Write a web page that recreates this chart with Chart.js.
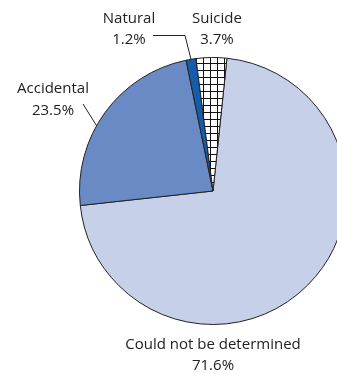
<!DOCTYPE html>
<html>
<head>
<meta charset="utf-8">
<script src="https://cdn.jsdelivr.net/npm/chart.js@4.4.1/dist/chart.umd.min.js"></script>
<style>
  html, body { margin: 0; padding: 0; background: #fff; overflow: hidden; width: 337px; height: 374px; }
  #wrap { position: absolute; left: 0; top: 0; width: 426px; height: 374px; }
</style>
</head>
<body>
<div id="wrap"><canvas id="pie" width="426" height="374"></canvas></div>
<script>
// データ
const categories = ['Could not be determined', 'Accidental', 'Natural', 'Suicide'];
const shares = [71.6, 23.5, 1.2, 3.7];

const FONT = '15px "Open Sans", sans-serif';

// 自殺の部分は格子模様
function gridPattern(ctx) {
    const c = document.createElement('canvas');
    c.width = 7;
    c.height = 7;
    const g = c.getContext('2d');
    g.fillStyle = '#fff';
    g.fillRect(0, 0, 7, 7);
    g.fillStyle = '#111';
    g.fillRect(0, 0, 7, 1);
    g.fillRect(0, 0, 1, 7);
    return ctx.createPattern(c, 'repeat');
}

// ラベルと引き出し線
const labelPlugin = {
    id: 'sliceLabels',
    afterDraw(chart) {
        const ctx = chart.ctx;
        const arcs = chart.getDatasetMeta(0).data;
        const a0 = arcs[0];
        const cx = a0.x, cy = a0.y, r = a0.outerRadius;
        const onEdge = (angle) => [cx + r * Math.cos(angle), cy + r * Math.sin(angle)];
        const mid = (arc) => (arc.startAngle + arc.endAngle) / 2;

        ctx.save();
        ctx.font = FONT;
        ctx.fillStyle = '#222';
        ctx.textAlign = 'center';
        ctx.textBaseline = 'alphabetic';

        const pct = (i) => shares[i].toFixed(1) + '%';
        // 判定不能
        ctx.fillText(categories[0], 213, 349);
        ctx.fillText(pct(0), 213, 370);
        // 事故
        ctx.fillText(categories[1], 53, 93);
        ctx.fillText(pct(1), 53, 115);
        // 自然
        ctx.fillText(categories[2], 129, 23);
        ctx.fillText(pct(2), 129, 44);
        // 自殺
        ctx.fillText(categories[3], 217, 23);
        ctx.fillText(pct(3), 217, 44);

        ctx.strokeStyle = '#222';
        ctx.lineWidth = 1;
        // 自然の引き出し線
        const pN = onEdge(mid(arcs[2]));
        ctx.beginPath();
        ctx.moveTo(153, 35.5);
        ctx.lineTo(185, 35.5);
        ctx.lineTo(pN[0], pN[1]);
        ctx.stroke();
        // 事故の引き出し線
        const pA = onEdge(arcs[1].startAngle + (arcs[1].endAngle - arcs[1].startAngle) * 0.42);
        ctx.beginPath();
        ctx.moveTo(83, 104);
        ctx.lineTo(pA[0], pA[1]);
        ctx.stroke();
        ctx.restore();
    }
};

const canvas = document.getElementById('pie');
const ctx = canvas.getContext('2d');

new Chart(ctx, {
    type: 'pie',
    data: {
        labels: categories,
        datasets: [{
            data: shares,
            backgroundColor: ['#c6d0e9', '#6a8ac6', '#175ca9', gridPattern(ctx)],
            borderColor: '#222',
            borderWidth: 1,
        }],
    },
    options: {
        responsive: false,
        animation: false,
        rotation: 6,
        layout: {
            padding: { top: 57, bottom: 49, left: 79, right: 79 },
        },
        plugins: {
            legend: { display: false },
            tooltip: { enabled: false },
        },
    },
    plugins: [labelPlugin],
});
</script>
</body>
</html>
